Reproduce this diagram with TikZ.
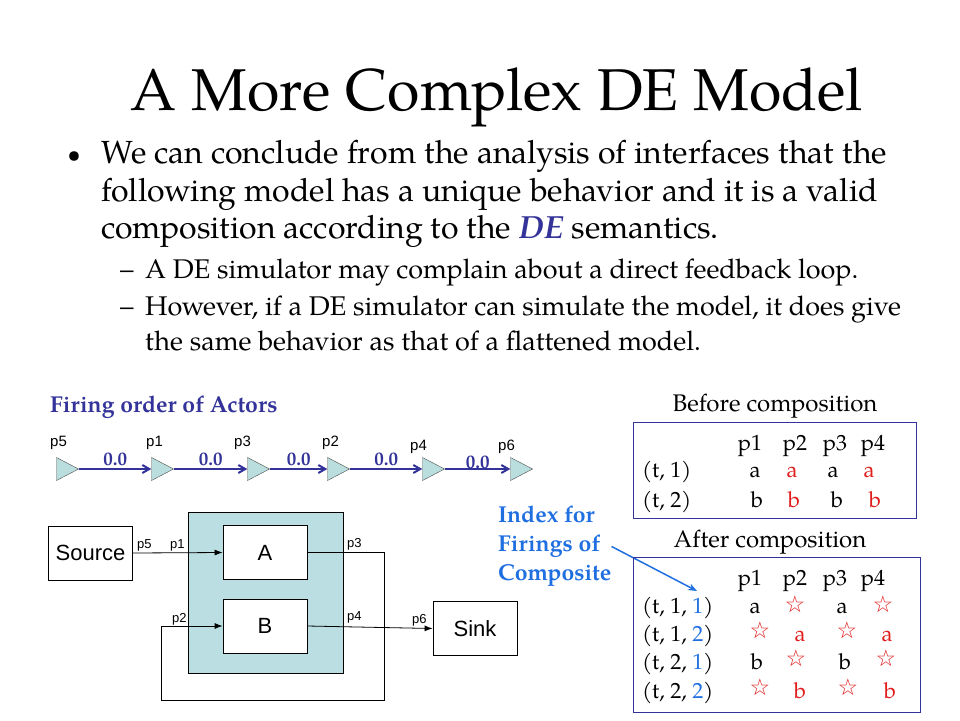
\documentclass[tikz,border=0pt]{standalone}
\usepackage{fontspec}
\setmainfont{texgyrepagella}[Extension=.otf, UprightFont=*-regular, BoldFont=*-bold, ItalicFont=*-italic, BoldItalicFont=*-bolditalic]
\newfontfamily\arialfont{Liberation Sans}
\newfontfamily\starfont{DejaVu Sans}
\usepackage{xcolor}
\usetikzlibrary{shapes.geometric,positioning,arrows.meta}
\definecolor{deblue}{RGB}{51,51,153}
\definecolor{idxblue}{RGB}{31,111,224}
\definecolor{valred}{RGB}{225,30,30}
\definecolor{compfill}{RGB}{186,222,226}
\definecolor{portfill}{RGB}{186,222,222}
\newcommand{\st}{{\starfont\fontsize{23}{23}\selectfont ☆}}

\begin{document}
\begin{tikzpicture}[x=1pt,y=-1pt]
 \tikzset{txt/.style={anchor=base west, inner sep=0pt},
  port/.style={isosceles triangle, isosceles triangle stretches, inner sep=0pt, minimum width=23pt, minimum height=22pt, draw=black!70, fill=portfill},
  portlbl/.style={anchor=base west, inner sep=0pt, font=\arialfont\fontsize{15}{15}\selectfont},
  delay/.style={midway, above=1pt, inner sep=1pt, text=deblue, font=\bfseries\fontsize{19}{19}\selectfont},
  block/.style={rectangle, draw, fill=white, thick, minimum width=84pt, minimum height=54pt, font=\arialfont\fontsize{22}{22}\selectfont},
  plbl/.style={anchor=base west, inner sep=0pt, font=\arialfont\fontsize{13}{13}\selectfont},
  cell/.style={anchor=base, inner sep=0pt, font=\fontsize{22}{22}\selectfont},
  red/.style={cell, text=valred},
  head/.style={anchor=base, inner sep=0pt, font=\fontsize{24}{24}\selectfont},
  tbl/.style={draw=deblue, thick}};
 \useasboundingbox (0,0) rectangle (960,720);
 % title and bullets
 \node[anchor=base, inner sep=0pt, font=\fontsize{59}{59}\selectfont] (title) at (497,110) {A More Complex DE Model};
 \node[anchor=base, inner sep=0pt, font=\fontsize{24}{24}\selectfont] (bul) at (74,162) {•};
 \node[txt, font=\fontsize{32}{32}\selectfont] (l1) at (101,163) {We can conclude from the analysis of interfaces that the};
 \node[txt, font=\fontsize{32}{32}\selectfont] (l2) at (101,201) {following model has a unique behavior and it is a valid};
 \node[txt, font=\fontsize{32}{32}\selectfont] (l3) at (101,238) {composition according to the \textcolor{deblue}{\textbf{\textit{DE}}} semantics.};
 \node[txt, font=\fontsize{27}{27}\selectfont] (d1) at (120,278) {–};
 \node[txt, font=\fontsize{27}{27}\selectfont] (s1) at (145,278) {A DE simulator may complain about a direct feedback loop.};
 \node[txt, font=\fontsize{27}{27}\selectfont] (d2) at (120,315) {–};
 \node[txt, font=\fontsize{27}{27}\selectfont] (s2) at (145,315) {However, if a DE simulator can simulate the model, it does give};
 \node[txt, font=\fontsize{27}{27}\selectfont] (s3) at (145,350) {the same behavior as that of a flattened model.};

 % firing order
 \node[txt, text=deblue, font=\bfseries\fontsize{23}{23}\selectfont] (fire) at (50,412) {Firing order of Actors};
 \node[port] (t5) at (63.5,469) {};
 \node[port] (t1) at (158.5,469) {};
 \node[port] (t3) at (254.5,469) {};
 \node[port] (t2) at (334.5,469) {};
 \node[port] (t4) at (429.5,469) {};
 \node[port] (t6) at (517.5,469) {};
 \node[portlbl] at (50,446) {p5};
 \node[portlbl] at (146,446) {p1};
 \node[portlbl] at (234,446) {p3};
 \node[portlbl] at (322,446) {p2};
 \node[portlbl] at (410,450) {p4};
 \node[portlbl] at (498,450) {p6};
 \draw[-{Straight Barb[length=7pt,width=8pt]}, deblue, line width=2pt] (t5.east) -- (t1.west) node[delay] {0.0};
 \draw[-{Straight Barb[length=7pt,width=8pt]}, deblue, line width=2pt] (t1.east) -- (t3.west) node[delay] {0.0};
 \draw[-{Straight Barb[length=7pt,width=8pt]}, deblue, line width=2pt] (t3.east) -- (t2.west) node[delay] {0.0};
 \draw[-{Straight Barb[length=7pt,width=8pt]}, deblue, line width=2pt] (t2.east) -- (t4.west) node[delay] {0.0};
 \draw[-{Straight Barb[length=7pt,width=8pt]}, deblue, line width=2pt] (t4.east) -- (t6.west) node[delay, yshift=-3pt] {0.0};

 % model
 \node[draw, thick, fill=compfill, minimum width=155pt, minimum height=161pt] (comp) at (265.5,592.5) {};
 \node[block] (src) at (90.5,553) {Source};
 \node[block] (a) at (265,552.5) {A};
 \node[block] (b) at (265,626) {B};
 \node[block] (sink) at (475,628.5) {Sink};
 \coordinate (fbr) at (384,700);
 \coordinate (fbl) at (161,700);
 \draw[thick, -{Latex[length=8pt,width=6pt]}] (src.east) -- (a.west);
 \draw[thick, -{Latex[length=8pt,width=6pt]}] (a.east) -| (fbr) -- (fbl) |- (b.west);
 \draw[thick, -{Latex[length=8pt,width=6pt]}] (b.east) -- (sink.west);
 \node[plbl] at (137,548) {p5};
 \node[plbl] at (170,548) {p1};
 \node[plbl] at (347,547) {p3};
 \node[plbl] at (172,622) {p2};
 \node[plbl] at (347,620) {p4};
 \node[plbl] at (412,623) {p6};

 % index note
 \node[anchor=north west, inner sep=0pt, align=left, text=idxblue, font=\bfseries\fontsize{23}{29}\selectfont] (idx) at (498,506) {Index for\\Firings of\\Composite};
 \coordinate (idxtip) at (697,591);
 \draw[idxblue, line width=1.5pt, -{Stealth[length=9pt,width=7pt]}] (idx.east) -- (idxtip);

 % before composition
 \node[head] (bef) at (775,411) {Before composition};
 \draw[tbl] (633,422) rectangle (916,518);
 \node[cell] at (750,450) {p1};
 \node[cell] at (795,450) {p2};
 \node[cell] at (835,450) {p3};
 \node[cell] at (873,450) {p4};
 \node[cell, anchor=base west] at (642,477) {(t, 1)};
 \node[cell, anchor=base west] at (642,507) {(t, 2)};
 \node[cell] at (755,477) {a};
 \node[red] at (792,477) {a};
 \node[cell] at (833,477) {a};
 \node[red] at (869,477) {a};
 \node[cell] at (757,507) {b};
 \node[red] at (794,507) {b};
 \node[cell] at (837,507) {b};
 \node[red] at (875,507) {b};

 % after composition
 \node[head] (aft) at (770,547) {After composition};
 \draw[tbl] (633,557) rectangle (920,712);
 \node[cell] at (750,585) {p1};
 \node[cell] at (795,585) {p2};
 \node[cell] at (835,585) {p3};
 \node[cell] at (873,585) {p4};
 \node[cell, anchor=base west] at (642,613) {(t, 1, \textcolor{idxblue}{1})};
 \node[cell, anchor=base west] at (642,641) {(t, 1, \textcolor{idxblue}{2})};
 \node[cell, anchor=base west] at (642,669) {(t, 2, \textcolor{idxblue}{1})};
 \node[cell, anchor=base west] at (642,698) {(t, 2, \textcolor{idxblue}{2})};
 \node[cell] at (755,613) {a};
 \node[red] at (795,612) {\st};
 \node[cell] at (842,613) {a};
 \node[red] at (883,612) {\st};
 \node[red] at (760,638) {\st};
 \node[red] at (800,641) {a};
 \node[red] at (847,638) {\st};
 \node[red] at (887,641) {a};
 \node[cell] at (757,669) {b};
 \node[red] at (796,666) {\st};
 \node[cell] at (845,669) {b};
 \node[red] at (886,666) {\st};
 \node[red] at (760,695) {\st};
 \node[red] at (800,698) {b};
 \node[red] at (848,695) {\st};
 \node[red] at (890,698) {b};
\end{tikzpicture}
\end{document}
